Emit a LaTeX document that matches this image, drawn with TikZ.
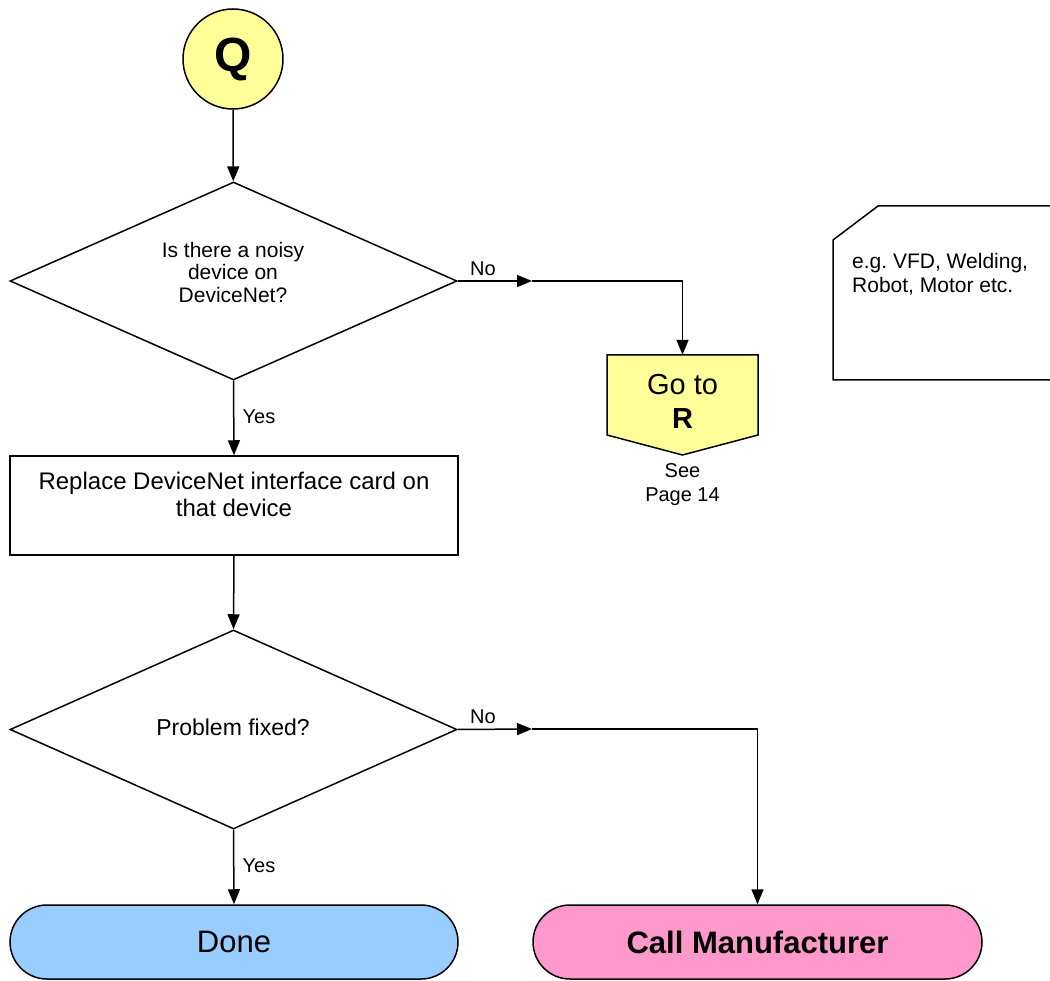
\documentclass[tikz,border=0pt]{standalone}
\usepackage{fontspec}
\setmainfont{Liberation Sans}
\usetikzlibrary{shapes.geometric,shapes.misc,arrows.meta}
\definecolor{qyel}{HTML}{FFFF99}
\definecolor{dblue}{HTML}{99CCFF}
\definecolor{cpink}{HTML}{FF99CC}
\frenchspacing
\begin{document}
\begin{tikzpicture}[x=1pt,y=-1pt,
  base/.style={draw, line width=1.5pt},
  arr/.style={line width=1.5pt, -{Triangle[length=15pt,width=12pt]}},
  lbl/.style={font=\fontsize{20}{22}\selectfont, inner sep=0},
  txt/.style={align=center, inner sep=0}]
\useasboundingbox (0,0) rectangle (1050,981);

% start connector
\node[circle, base, fill=qyel, minimum size=100pt, inner sep=0,
      font=\fontsize{48}{48}\selectfont\bfseries] (q) at (233,59) {Q};

% decision 1
\node[diamond, base, minimum width=447pt, minimum height=198pt, inner sep=0] (d1) at (233.5,281) {};
\node[txt, font=\fontsize{21}{22.5}\selectfont] (t1) at (233,272) {Is there a noisy\\device on\\DeviceNet?};

% go to R
\node[minimum width=151pt, minimum height=100pt, inner sep=0] (goto) at (682.5,405) {};
\draw[base, fill=qyel] (607,355) -- (758,355) -- (758,435) -- (682.5,455) -- (607,435) -- cycle;
\node[txt, font=\fontsize{29}{34}\selectfont] (gotxt) at (682.5,401) {Go to\\\textbf{R}};
\node[txt, font=\fontsize{20}{24}\selectfont] (see) at (682.5,485) {See\\Page 14};

% process box
\node[rectangle, base, minimum width=448pt, minimum height=99pt, inner sep=0] (box) at (234,505.5) {};
\node[txt, font=\fontsize{24}{27}\selectfont] (boxtxt) at (234,494.5) {Replace DeviceNet interface card on\\that device};

% decision 2
\node[diamond, base, minimum width=447pt, minimum height=199pt, inner sep=0] (d2) at (233.5,729.5) {};
\node[txt, font=\fontsize{23}{25}\selectfont] (t2) at (233,727) {Problem fixed?};

% terminals
\node[rounded rectangle, base, fill=dblue, minimum width=448pt, minimum height=74pt, inner sep=0,
      font=\fontsize{31}{31}\selectfont] (done) at (234,942) {Done};
\node[rounded rectangle, base, fill=cpink, minimum width=449pt, minimum height=74pt, inner sep=0,
      font=\fontsize{31}{31}\selectfont\bfseries] (call) at (757.5,942) {Call Manufacturer};

% note
\draw[base] (1052,206) -- (878,206) -- (833,240) -- (833,380) -- (1052,380);
\node[anchor=west, align=left, inner sep=0, font=\fontsize{21}{24}\selectfont] (note) at (852,274) {e.g. VFD, Welding,\\Robot, Motor etc.};

% connectors
\coordinate (m1) at (532,281);
\coordinate (m2) at (532,729);
\draw[arr] (q) -- (d1);
\draw[arr] (d1.east) -- (m1);
\draw[arr] (m1) -| (goto.north);
\node[lbl] (no1) at (483,269) {No};
\draw[arr] (d1.south) -- (box.north);
\node[lbl] (yes1) at (259,417) {Yes};
\draw[arr] (box.south) -- (d2.north);
\draw[arr] (d2.east) -- (m2);
\draw[arr] (m2) -| (call.north);
\node[lbl] (no2) at (483,717) {No};
\draw[arr] (d2.south) -- (done.north);
\node[lbl] (yes2) at (259,866) {Yes};
\end{tikzpicture}
\end{document}
